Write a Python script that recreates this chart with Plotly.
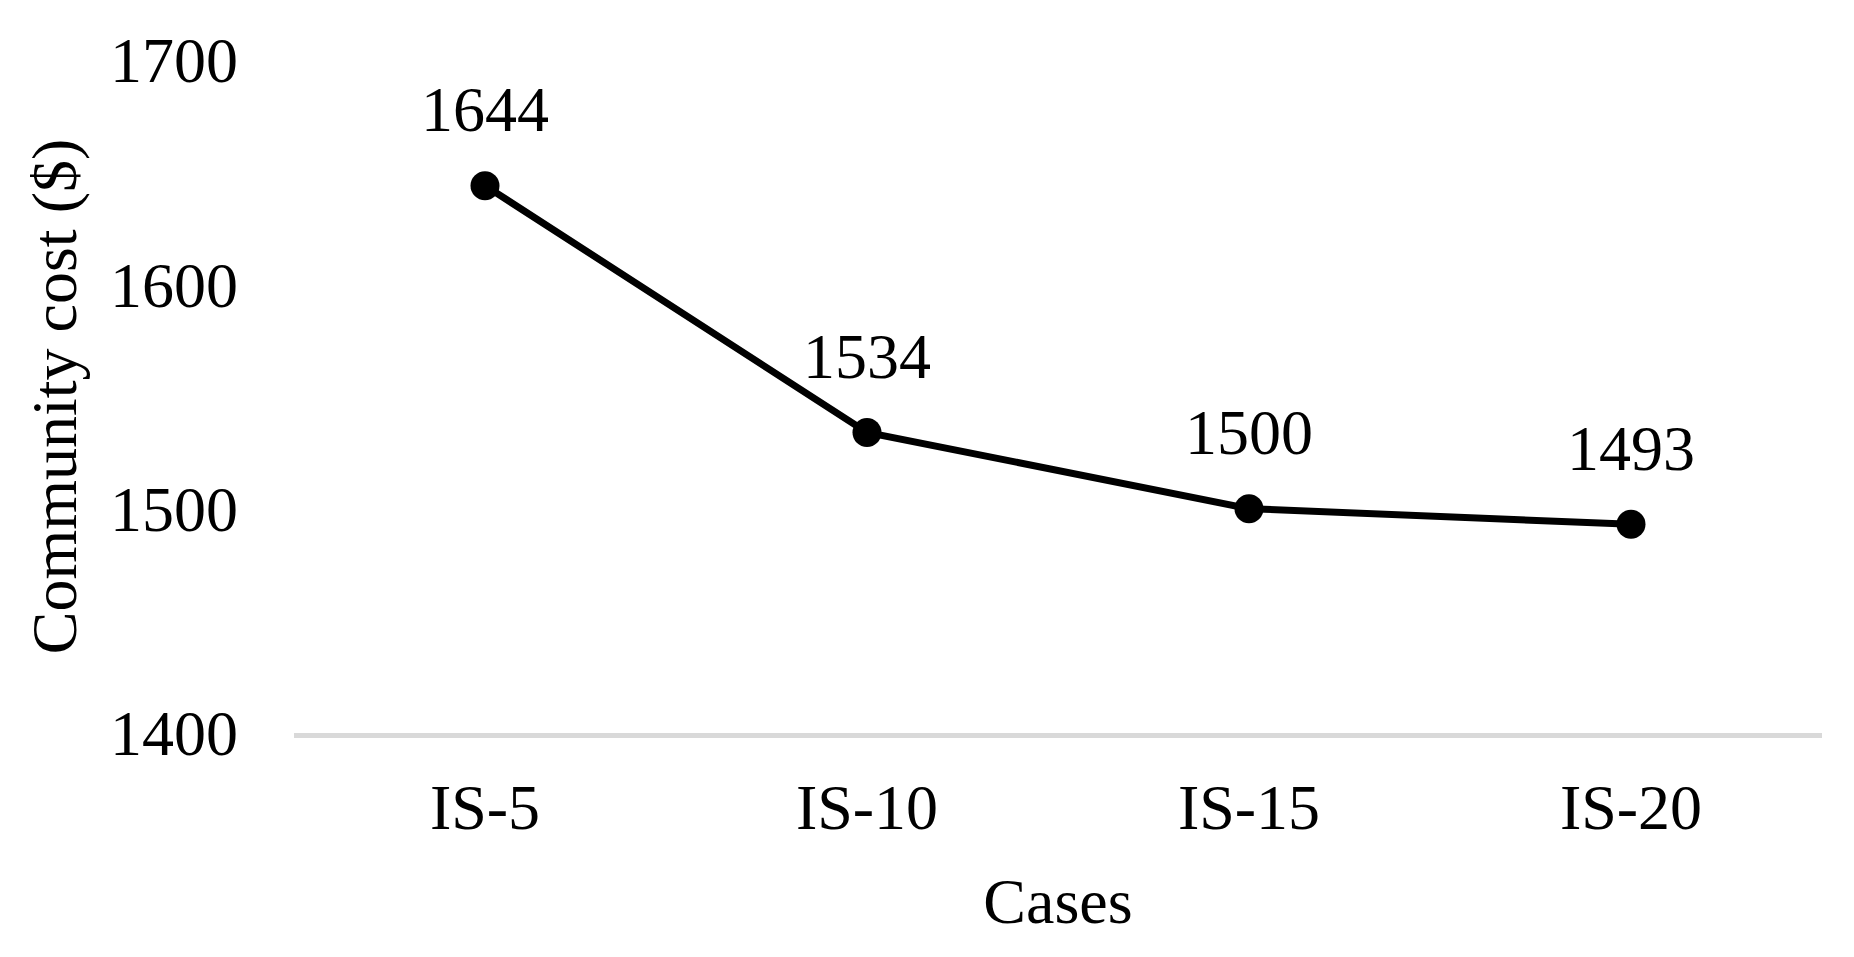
import plotly.graph_objects as go

# data
cases = ['IS-5', 'IS-10', 'IS-15', 'IS-20']
community_cost = [1644, 1534, 1500, 1493]
y_ticks = [1400, 1500, 1600, 1700]

FONT = "Liberation Serif, Times New Roman, serif"
FS = 64

fig = go.Figure()
fig.add_trace(go.Scatter(
    x=cases,
    y=community_cost,
    mode='lines+markers',
    line=dict(color='black', width=7),
    marker=dict(color='black', size=29),
    showlegend=False,
    cliponaxis=False,
))

# value labels above the points
for c, v in zip(cases, community_cost):
    fig.add_annotation(
        x=c, y=v, text=str(v), showarrow=False,
        yshift=76, yanchor='middle',
        font=dict(family=FONT, size=FS, color='black'),
    )

# page body has an 8px margin, so the figure is 16px smaller than the window
fig.update_layout(
    width=1838,
    height=941,
    paper_bgcolor='white',
    plot_bgcolor='white',
    margin=dict(l=286, r=24, t=52, b=216, autoexpand=False),
    font=dict(family=FONT, size=FS, color='black'),
)

fig.update_xaxes(
    range=[-0.5, 3.5],
    showgrid=False,
    showline=True,
    linecolor='#d9d9d9',
    linewidth=5,
    ticks='',
    ticklabelstandoff=14,
    tickfont=dict(family=FONT, size=FS, color='black'),
    title=dict(text='Cases', font=dict(family=FONT, size=FS, color='black'), standoff=38),
    zeroline=False,
)

fig.update_yaxes(
    range=[1400, 1700],
    tickvals=y_ticks,
    showgrid=False,
    showline=False,
    zeroline=False,
    ticks='',
    ticklabelstandoff=55,
    tickfont=dict(family=FONT, size=FS, color='black'),
    title=dict(text='Community cost ($)', font=dict(family=FONT, size=FS, color='black'), standoff=12),
)

fig.write_html("out.html")
